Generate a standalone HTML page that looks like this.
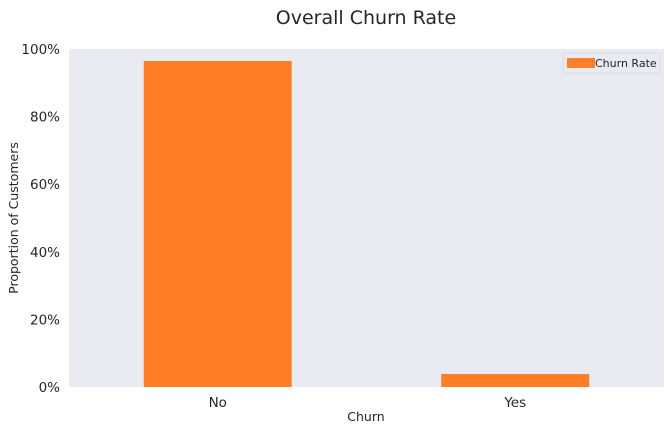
<!DOCTYPE html>
<html><head><meta charset="utf-8"><style>
body{margin:0;background:#fff;font-family:"Liberation Sans","DejaVu Sans",sans-serif;}
</style></head><body>
<svg id="chart" width="666" height="429" font-family="DejaVu Sans, Liberation Sans, sans-serif">
<text x="366" y="24" text-anchor="middle" font-size="19" fill="#262626">Overall Churn Rate</text>
<rect x="69" y="49" width="595" height="338" fill="#eaeaf2"/>
<g id="yticks"></g><g id="bars"></g><g id="xticks"></g>
<text x="366" y="421" text-anchor="middle" font-size="12.5" fill="#262626">Churn</text>
<text transform="translate(18,218) rotate(-90)" text-anchor="middle" font-size="12.5" fill="#262626">Proportion of Customers</text>
<g>
<rect x="563" y="53" width="97" height="20" rx="2" fill="#eaeaf2" stroke="#d8d8e0" stroke-width="0.8"/>
<rect x="567" y="58" width="28" height="10" fill="#ff7f27"/>
<text x="595" y="67" font-size="11" fill="#262626">Churn Rate</text>
</g>
</svg>
<script>
const categories=["No","Yes"];
const values=[0.9645,0.0385];
const yTicks=[0,0.2,0.4,0.6,0.8,1.0];
const yTickLabels=["0%","20%","40%","60%","80%","100%"];
const ns="http://www.w3.org/2000/svg";
const y=v=>387-v*338;
const x=i=>69+595*(i+0.5)/categories.length;
const bw=148;
const yt=document.getElementById('yticks');
yTicks.forEach((t,i)=>{const e=document.createElementNS(ns,'text');
e.setAttribute('x',60);e.setAttribute('y',y(t)+5);e.setAttribute('text-anchor','end');e.setAttribute('font-size','13.5');e.setAttribute('fill','#262626');


e.textContent=yTickLabels[i];yt.appendChild(e);});
const bg=document.getElementById('bars'),xt=document.getElementById('xticks');
categories.forEach((c,i)=>{const r=document.createElementNS(ns,'rect');
r.setAttribute('x',x(i)-bw/2);r.setAttribute('y',y(values[i]));r.setAttribute('width',bw);r.setAttribute('height',387-y(values[i]));r.setAttribute('fill','#ff7f27');


bg.appendChild(r);
const t=document.createElementNS(ns,'text');t.setAttribute('x',x(i));t.setAttribute('y',407);t.setAttribute('text-anchor','middle');t.setAttribute('font-size','13.5');t.setAttribute('fill','#262626');


t.textContent=c;xt.appendChild(t);});
</script>
</body></html>
